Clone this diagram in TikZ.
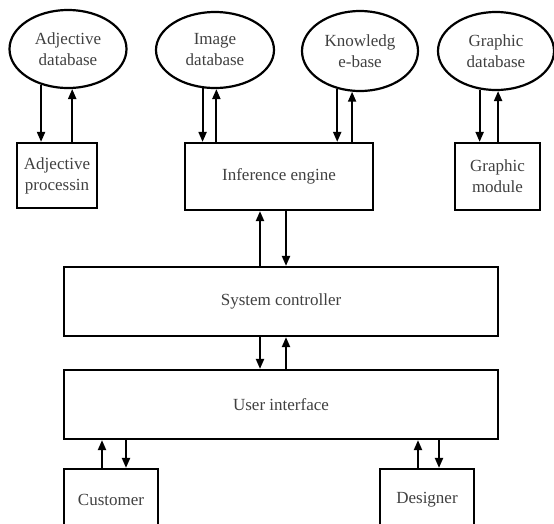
\documentclass[tikz,border=0pt]{standalone}
\usepackage{fontspec}
\setmainfont{Liberation Serif}
\usetikzlibrary{arrows.meta,positioning,shapes.geometric}

\begin{document}
\begin{tikzpicture}[
  x=1pt, y=-1pt,
  >={Triangle[length=10pt,width=8pt]},
  font=\fontsize{17}{21}\selectfont,
  db/.style={draw, ellipse, line width=2.2pt, align=center, text=black!75, inner sep=0pt},
  box/.style={draw, rectangle, line width=2.2pt, align=center, text=black!75, inner sep=0pt},
  flow/.style={->, line width=2pt}
]
\clip (0,0) rectangle (554,523);

% data stores
\node[db, minimum width=117pt, minimum height=78pt] (adjdb) at (68,49) {Adjective\\database};
\node[db, minimum width=118pt, minimum height=76pt] (imgdb) at (215,50) {Image\\database};
\node[db, minimum width=116pt, minimum height=80pt] (kbdb) at (360,51) {Knowledg\\e-base};
\node[db, minimum width=116pt, minimum height=78pt] (gdb) at (496,51) {Graphic\\database};

% modules
\node[box, minimum width=80pt, minimum height=65pt] (adjproc) at (57,175.5) {Adjective\\processin};
\node[box, minimum width=188pt, minimum height=67pt] (infer) at (279,176.5) {Inference engine};
\node[box, minimum width=85pt, minimum height=67pt] (gmod) at (497.5,176.5) {Graphic\\module};
\node[box, minimum width=434pt, minimum height=69pt] (sysctl) at (281,301.5) {System controller};
\node[box, minimum width=434pt, minimum height=69pt] (ui) at (281,404.5) {User interface};
\node[box, minimum width=94pt, minimum height=62pt] (cust) at (111,500) {Customer};
\node[box, minimum width=94pt, minimum height=62pt] (designer) at (427,500) {Designer};

% stores <-> modules
\draw[flow] (adjdb.-127) -- (adjdb.-127 |- adjproc.north);
\draw[flow] (adjdb.-84 |- adjproc.north) -- (adjdb.-84);
\draw[flow] (imgdb.-108) -- (imgdb.-108 |- infer.north);
\draw[flow] (imgdb.-88 |- infer.north) -- (imgdb.-88);
\draw[flow] (kbdb.-121) -- (kbdb.-121 |- infer.north);
\draw[flow] (kbdb.-101 |- infer.north) -- (kbdb.-101);
\draw[flow] (gdb.-113) -- (gdb.-113 |- gmod.north);
\draw[flow] (gdb.-87 |- gmod.north) -- (gdb.-87);

% controller links
\draw[flow] ([xshift=-21pt]sysctl.north) -- ([xshift=-21pt]sysctl.north |- infer.south);
\draw[flow] ([xshift=5pt]sysctl.north |- infer.south) -- ([xshift=5pt]sysctl.north);
\draw[flow] ([xshift=-21pt]sysctl.south) -- ([xshift=-21pt]sysctl.south |- ui.north);
\draw[flow] ([xshift=5pt]sysctl.south |- ui.north) -- ([xshift=5pt]sysctl.south);

% users
\draw[flow] ([xshift=-9pt]cust.north) -- ([xshift=-9pt]cust.north |- ui.south);
\draw[flow] ([xshift=15pt]cust.north |- ui.south) -- ([xshift=15pt]cust.north);
\draw[flow] ([xshift=-9pt]designer.north) -- ([xshift=-9pt]designer.north |- ui.south);
\draw[flow] ([xshift=12pt]designer.north |- ui.south) -- ([xshift=12pt]designer.north);
\end{tikzpicture}
\end{document}
